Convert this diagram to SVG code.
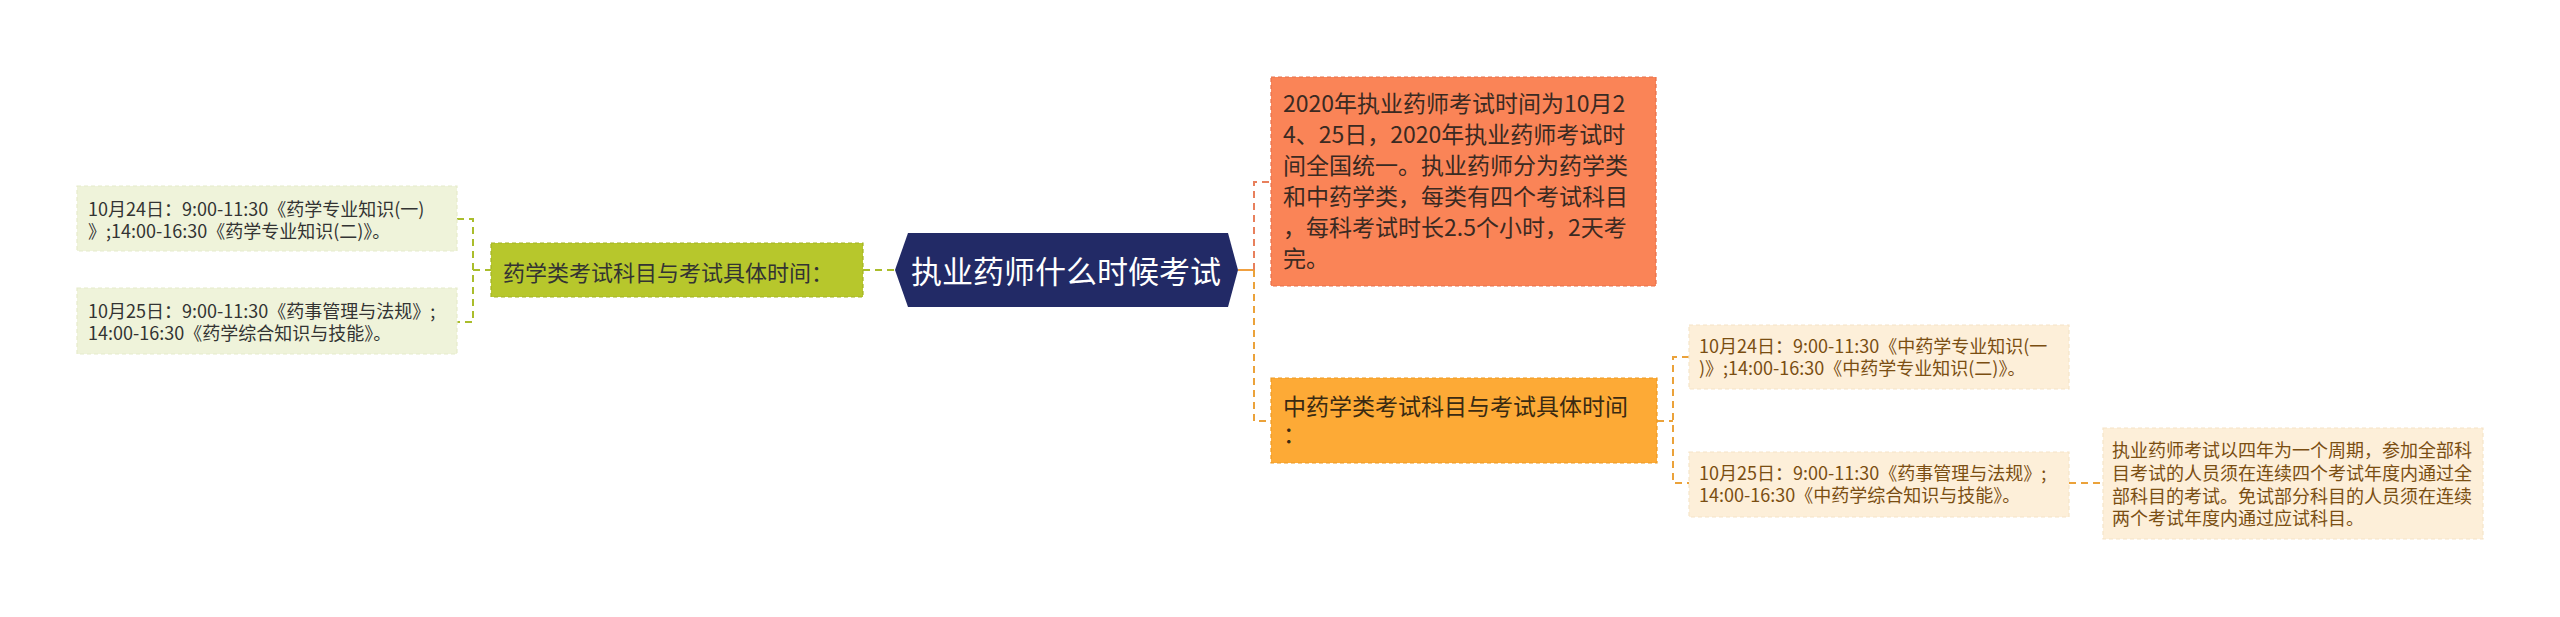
<svg xmlns="http://www.w3.org/2000/svg" width="2560" height="617" viewBox="0 0 2560 617">
<style>
text{font-family:"Noto Sans CJK SC","Noto Sans",sans-serif;}
.conn{fill:none;stroke-width:2;stroke-dasharray:7 5;}
.g{stroke:#AABD2C;}
.r{stroke:#E8805C;}
.o{stroke:#EBA23A;}
.leaf{stroke-width:1.2;stroke-dasharray:4 3;}
.t18{font-size:18px;}
</style>
<rect width="2560" height="617" fill="#ffffff"/>
<g id="connectors">
  <path class="conn g" d="M457,219 H473 V322 H457 M473,270 H491"/>
  <path class="conn g" d="M863,270 H895" stroke-dasharray="6 4 40"/>
  <path d="M1238,270 H1254" stroke="#F0A040" stroke-width="2" fill="none"/>
  <path class="conn r" d="M1254,270 V182 H1271"/>
  <path class="conn o" d="M1254,270 V421 H1271"/>
  <path class="conn o" d="M1657,421 H1673 M1689,357 H1673 V483 H1689"/>
  <path class="conn o" d="M2069,483 H2103"/>
</g>
<g id="root">
  <polygon points="895,270 908,233 1228,233 1238,270 1228,307 908,307" fill="#222A66"/>
  <text x="1066" y="283" font-size="31" fill="#ffffff" text-anchor="middle">执业药师什么时候考试</text>
</g>
<g id="pharmacy">
  <rect x="491" y="243" width="372" height="54" fill="#B7C72C" stroke="#A3B422" class="leaf"/>
  <text x="503" y="281" font-size="22" fill="#333333">药学类考试科目与考试具体时间：</text>
</g>
<g id="pharmacy-day1">
  <rect x="77" y="186" width="380" height="65" fill="#EFF3DA" stroke="#E6EBCB" class="leaf"/>
  <text class="t18" fill="#333333"><tspan x="88" y="216">10月24日：9:00-11:30《药学专业知识(一)</tspan><tspan x="88" y="238">》;14:00-16:30《药学专业知识(二)》。</tspan></text>
</g>
<g id="pharmacy-day2">
  <rect x="77" y="288" width="380" height="66" fill="#EFF3DA" stroke="#E6EBCB" class="leaf"/>
  <text class="t18" fill="#333333"><tspan x="88" y="318">10月25日：9:00-11:30《药事管理与法规》;</tspan><tspan x="88" y="340">14:00-16:30《药学综合知识与技能》。</tspan></text>
</g>
<g id="summary">
  <rect x="1271" y="77" width="385" height="209" fill="#FA8457" stroke="#E8704A" class="leaf"/>
  <text font-size="23" fill="#3A2A22">
    <tspan x="1283" y="112">2020年执业药师考试时间为10月2</tspan>
    <tspan x="1283" y="143">4、25日，2020年执业药师考试时</tspan>
    <tspan x="1283" y="174">间全国统一。执业药师分为药学类</tspan>
    <tspan x="1283" y="205">和中药学类，每类有四个考试科目</tspan>
    <tspan x="1283" y="236">，每科考试时长2.5个小时，2天考</tspan>
    <tspan x="1283" y="267">完。</tspan>
  </text>
</g>
<g id="tcm">
  <rect x="1271" y="378" width="386" height="85" fill="#FDAA36" stroke="#EE9A22" class="leaf"/>
  <text font-size="23" fill="#3A2A12"><tspan x="1283" y="415">中药学类考试科目与考试具体时间</tspan><tspan x="1283" y="443">：</tspan></text>
</g>
<g id="tcm-day1">
  <rect x="1689" y="325" width="380" height="64" fill="#FDEFD9" stroke="#F6E4C8" class="leaf"/>
  <text class="t18" fill="#7A4E12"><tspan x="1699" y="353">10月24日：9:00-11:30《中药学专业知识(一</tspan><tspan x="1699" y="375">)》;14:00-16:30《中药学专业知识(二)》。</tspan></text>
</g>
<g id="tcm-day2">
  <rect x="1689" y="452" width="380" height="65" fill="#FDEFD9" stroke="#F6E4C8" class="leaf"/>
  <text class="t18" fill="#7A4E12"><tspan x="1699" y="480">10月25日：9:00-11:30《药事管理与法规》;</tspan><tspan x="1699" y="502">14:00-16:30《中药学综合知识与技能》。</tspan></text>
</g>
<g id="cycle-note">
  <rect x="2103" y="428" width="380" height="111" fill="#FDEFD9" stroke="#F6E4C8" class="leaf"/>
  <text class="t18" fill="#7A4E12">
    <tspan x="2112" y="457">执业药师考试以四年为一个周期，参加全部科</tspan>
    <tspan x="2112" y="480">目考试的人员须在连续四个考试年度内通过全</tspan>
    <tspan x="2112" y="503">部科目的考试。免试部分科目的人员须在连续</tspan>
    <tspan x="2112" y="525">两个考试年度内通过应试科目。</tspan>
  </text>
</g>
</svg>
